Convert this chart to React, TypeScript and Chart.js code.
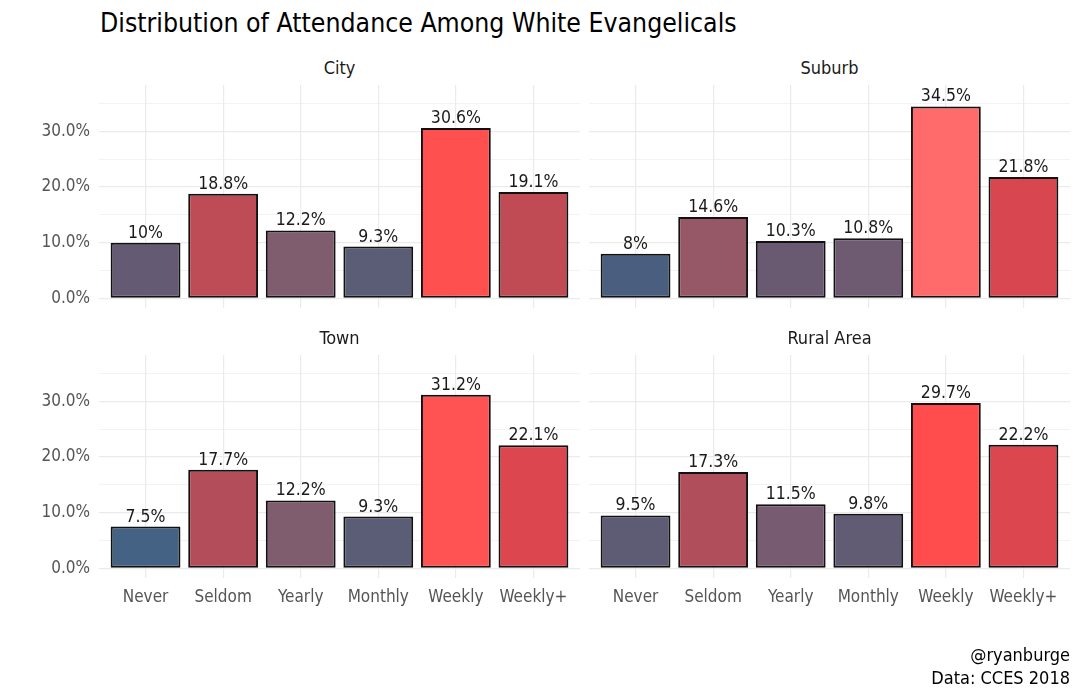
import { useEffect, useRef } from 'react';
import { Chart, registerables } from 'chart.js';

Chart.register(...registerables);

const CATEGORIES = ['Never', 'Seldom', 'Yearly', 'Monthly', 'Weekly', 'Weekly+'];
const PANEL_NAMES = ['City', 'Suburb', 'Town', 'Rural Area'];
const CITY = [10, 18.8, 12.2, 9.3, 30.6, 19.1];
const SUBURB = [8, 14.6, 10.3, 10.8, 34.5, 21.8];
const TOWN = [7.5, 17.7, 12.2, 9.3, 31.2, 22.1];
const RURAL = [9.5, 17.3, 11.5, 9.8, 29.7, 22.2];
const PANEL_VALUES = [CITY, SUBURB, TOWN, RURAL];
const Y_TICKS = [0, 5, 10, 15, 20, 25, 30, 35];
const Y_MIN = -1.75;
const Y_MAX = 38.35;

const TITLE = 'Distribution of Attendance Among White Evangelicals';
const CAPTION = ['@ryanburge', 'Data: CCES 2018'];

// fill colour scale (value -> colour)
const FILL_STOPS: [number, string][] = [
  [7.5, '#446284'],
  [8, '#4A5F80'],
  [9.3, '#5A5D75'],
  [10, '#655A73'],
  [12.2, '#7F5C6E'],
  [14.6, '#965766'],
  [17.3, '#B04E5C'],
  [18.8, '#BE4C56'],
  [22.2, '#DC464F'],
  [29.7, '#FF4C4C'],
  [31.2, '#FF5353'],
  [34.5, '#FF6B6B'],
];

const FONT = '"DejaVu Sans Condensed", "Liberation Sans Narrow", sans-serif';

function hexToRgb(h: string): number[] {
  return [1, 3, 5].map((i) => parseInt(h.slice(i, i + 2), 16));
}

function fillFor(v: number): string {
  if (v <= FILL_STOPS[0][0]) return FILL_STOPS[0][1];
  for (let i = 1; i < FILL_STOPS.length; i++) {
    const [v1, c1] = FILL_STOPS[i];
    const [v0, c0] = FILL_STOPS[i - 1];
    if (v <= v1) {
      const t = (v - v0) / (v1 - v0);
      const a = hexToRgb(c0);
      const b = hexToRgb(c1);
      const m = a.map((x, k) => Math.round(x + (b[k] - x) * t));
      return `rgb(${m[0]},${m[1]},${m[2]})`;
    }
  }
  return FILL_STOPS[FILL_STOPS.length - 1][1];
}

const barLabelPlugin = {
  id: 'barLabels',
  afterDatasetsDraw(chart: any) {
    const ctx = chart.ctx;
    const meta = chart.getDatasetMeta(0);
    const data = chart.data.datasets[0].data as { x: number; y: number }[];
    ctx.save();
    ctx.font = `17.5px ${FONT}`;
    ctx.fillStyle = '#1a1a1a';
    ctx.textAlign = 'center';
    ctx.textBaseline = 'alphabetic';
    meta.data.forEach((el: any, i: number) => {
      ctx.fillText(`${data[i].y}%`, el.x, el.y - 5);
    });
    ctx.restore();
  },
};

type PanelProps = {
  idx: number;
  areaLeft: number;
  areaTop: number;
  areaW: number;
  areaH: number;
  showY: boolean;
  showX: boolean;
};

function Panel({ idx, areaLeft, areaTop, areaW, areaH, showY, showX }: PanelProps) {
  const ref = useRef<HTMLCanvasElement>(null);
  const yW = showY ? areaLeft : 0;
  const xH = showX ? 40 : 0;
  const padT = 30;
  const padB = 30;

  useEffect(() => {
    if (!ref.current) return;
    const values = PANEL_VALUES[idx];
    const chart = new Chart(ref.current, {
      type: 'bar',
      data: {
        datasets: [
          {
            data: values.map((v, i) => ({ x: i, y: v })),
            backgroundColor: values.map(fillFor),
            borderColor: '#111',
            borderWidth: 2,
            borderSkipped: false,
            barPercentage: 0.9,
            categoryPercentage: 1,
          } as any,
        ],
      },
      options: {
        animation: false,
        responsive: true,
        maintainAspectRatio: false,
        events: [],
        layout: { padding: { top: padT, bottom: padB, left: 0, right: 0 } },
        plugins: { legend: { display: false }, tooltip: { enabled: false }, title: { display: false } },
        scales: {
          x: {
            type: 'linear',
            min: -0.6,
            max: 5.6,
            offset: false,
            border: { display: false },
            grid: { color: '#EBEBEB', lineWidth: 1.2, drawTicks: false, offset: false },
            ticks: {
              display: showX,
              autoSkip: false,
              maxRotation: 0,
              padding: 9,
              color: '#555',
              font: { family: FONT, size: 17 },
              callback: (v: any) => CATEGORIES[v as number] ?? '',
            },
            afterBuildTicks: (s: any) => {
              s.ticks = CATEGORIES.map((_, i) => ({ value: i }));
            },
            afterFit: (s: any) => {
              s.height = xH;
            },
          },
          y: {
            type: 'linear',
            min: Y_MIN,
            max: Y_MAX,
            border: { display: false },
            grid: {
              color: '#EBEBEB',
              lineWidth: (c: any) => (c.tick && c.tick.value % 10 === 0 ? 1.2 : 0.6),
              drawTicks: false,
            },
            ticks: {
              display: showY,
              padding: 9,
              color: '#555',
              font: { family: FONT, size: 17 },
              callback: (v: any) => ((v as number) % 10 === 0 ? `${(v as number).toFixed(1)}%` : ''),
            },
            afterBuildTicks: (s: any) => {
              s.ticks = Y_TICKS.map((v) => ({ value: v }));
            },
            afterFit: (s: any) => {
              s.width = yW;
            },
          },
        },
      } as any,
      plugins: [barLabelPlugin],
    });
    return () => chart.destroy();
  }, [idx]);

  return (
    <div
      style={{
        position: 'absolute',
        left: areaLeft - yW,
        top: areaTop - padT,
        width: areaW + yW,
        height: padT + areaH + xH + padB,
      }}
    >
      <canvas ref={ref} />
    </div>
  );
}

export default function App() {
  const cols = [99, 589];
  const rows = [85, 355];
  const areaW = 481;
  const areaH = 223;
  const stripOffset = 26;
  return (
    <div
      style={{
        position: 'absolute',
        left: 0,
        top: 0,
        width: 1080,
        height: 697,
        background: '#fff',
        fontFamily: FONT,
        overflow: 'hidden',
      }}
    >
      <div
        style={{
          position: 'absolute',
          left: 100,
          top: 10,
          fontSize: 26.4,
          lineHeight: '26px',
          color: '#000',
          whiteSpace: 'nowrap',
        }}
      >
        {TITLE}
      </div>
      {PANEL_NAMES.map((name, i) => {
        const c = i % 2;
        const r = Math.floor(i / 2);
        return (
          <div key={name}>
            <div
              style={{
                position: 'absolute',
                left: cols[c],
                top: rows[r] - stripOffset,
                width: areaW,
                textAlign: 'center',
                fontSize: 18,
                lineHeight: '18px',
                color: '#1A1A1A',
              }}
            >
              {name}
            </div>
            <Panel
              idx={i}
              areaLeft={cols[c]}
              areaTop={rows[r]}
              areaW={areaW}
              areaH={areaH}
              showY={c === 0}
              showX={r === 1}
            />
          </div>
        );
      })}
      <div
        style={{
          position: 'absolute',
          right: 10,
          top: 643,
          textAlign: 'right',
          fontSize: 18,
          lineHeight: '23px',
          color: '#000',
        }}
      >
        {CAPTION.map((l) => (
          <div key={l}>{l}</div>
        ))}
      </div>
    </div>
  );
}
